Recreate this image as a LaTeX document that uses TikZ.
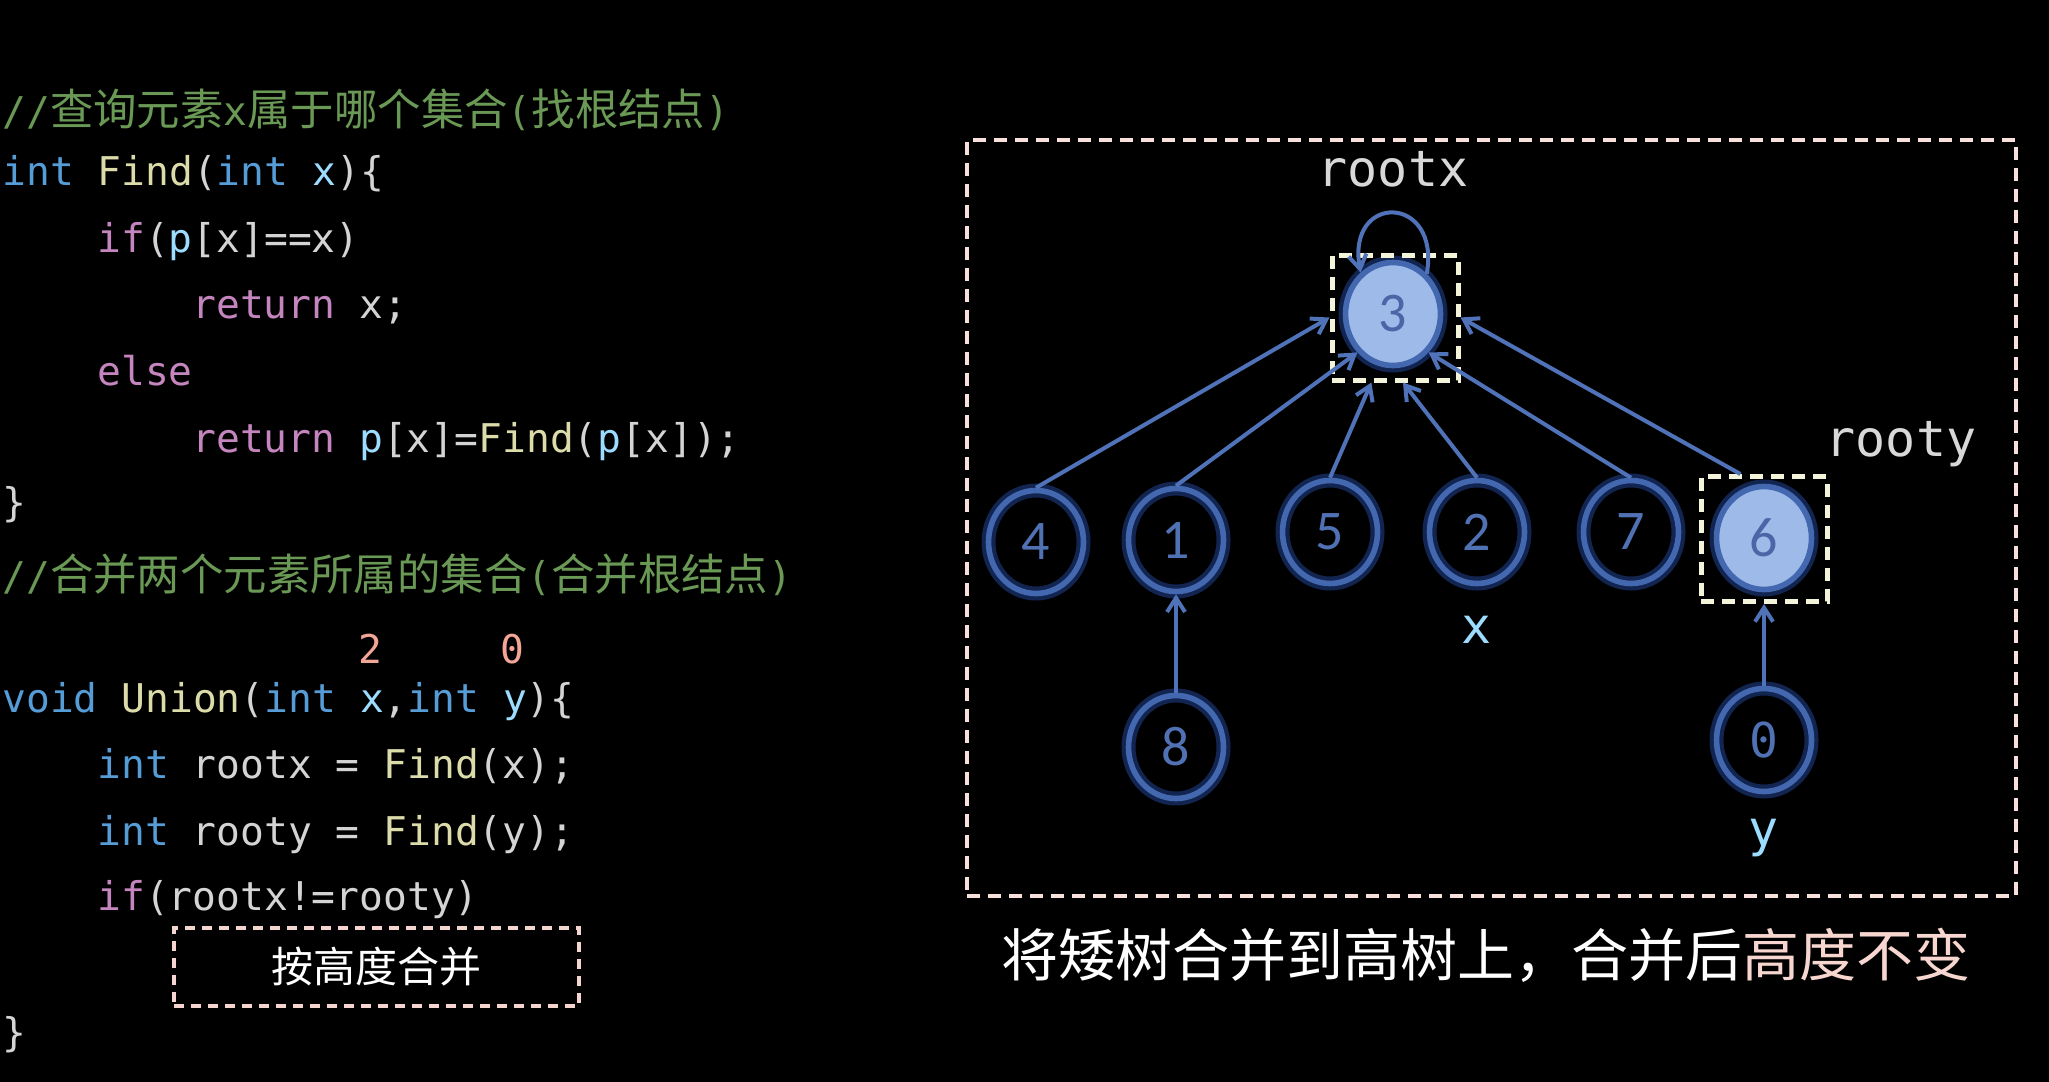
\documentclass[tikz,border=0pt]{standalone}
\usepackage{fontspec}
\usetikzlibrary{arrows.meta,shapes.geometric}
\newfontfamily\codefont{DejaVu Sans Mono}
\newfontfamily\cjk{Noto Sans CJK SC}
\newfontfamily\calib{Carlito}
\definecolor{cmt}{HTML}{6A9955}
\definecolor{kw}{HTML}{569CD6}
\definecolor{fn}{HTML}{DCDCAA}
\definecolor{var}{HTML}{9CDCFE}
\definecolor{ctl}{HTML}{C586C0}
\definecolor{txt}{HTML}{D4D4D4}
\definecolor{num}{HTML}{F3A597}
\definecolor{nodeblue}{HTML}{4468B0}
\definecolor{glowblue}{HTML}{2E5BC8}
\definecolor{fillblue}{HTML}{9DBAE8}
\definecolor{digit}{HTML}{5072B4}
\definecolor{digitdark}{HTML}{4A66A6}
\definecolor{edgeblue}{HTML}{4F72B8}
\definecolor{cream}{HTML}{F4F4DA}
\definecolor{pinkframe}{HTML}{F8E0DC}
\definecolor{pinkbox}{HTML}{F5D5D0}
\definecolor{pinkt}{HTML}{F8D6D0}
\definecolor{lgray}{HTML}{D8D8D8}
\newcommand\cjkc{\cjk\fontsize{21.7pt}{26pt}\selectfont}
\begin{document}
\begin{tikzpicture}[x=0.5pt,y=-0.5pt,
  code/.style={anchor=base west, inner sep=0pt, font=\codefont\fontsize{19.8pt}{24pt}\selectfont, text=txt},
  tnode/.style={ellipse, draw=nodeblue, line width=2.8pt, minimum width=47.5pt, minimum height=51.5pt, inner sep=0pt, text=digit, font=\calib\fontsize{28pt}{30pt}\selectfont, preaction={draw=glowblue, line width=7pt, draw opacity=0.4}},
  rootnode/.style={tnode, fill=fillblue, text=digitdark},
  rootbox/.style={draw=cream, dash pattern=on 6.5pt off 4pt, line width=2.5pt, minimum width=63pt, minimum height=62.5pt, inner sep=0pt},
  edge/.style={draw=edgeblue, line width=2pt, -{Straight Barb[length=7pt,width=9pt]}},
  lbl/.style={font=\codefont\fontsize{25pt}{30pt}\selectfont, text=lgray, anchor=base, inner sep=0pt}]
\useasboundingbox (0,0) rectangle (2049,1081);
\fill[black] (-20,-20) rectangle (2069,1101);
% code
\node[code] (l1) at (2,126) {\textcolor{cmt}{//{\cjkc 查询元素}x{\cjkc 属于哪个集合}({\cjkc 找根结点})}};
\node[code] (l2) at (2,185) {\textcolor{kw}{int} \textcolor{fn}{Find}(\textcolor{kw}{int} \textcolor{var}{x})\{};
\node[code] (l3) at (97,252) {\textcolor{ctl}{if}(\textcolor{var}{p}[x]==x)};
\node[code] (l4) at (192,318) {\textcolor{ctl}{return} x;};
\node[code] (l5) at (97,385) {\textcolor{ctl}{else}};
\node[code] (l6) at (192,452) {\textcolor{ctl}{return} \textcolor{var}{p}[x]=\textcolor{fn}{Find}(\textcolor{var}{p}[x]);};
\node[code] (l7) at (2,516) {\}};
\node[code] (l8) at (2,590) {\textcolor{cmt}{//{\cjkc 合并两个元素所属的集合}({\cjkc 合并根结点})}};
\node[code, anchor=base, text=num] (n2lbl) at (370,663) {2};
\node[code, anchor=base, text=num] (n0lbl) at (512,663) {0};
\node[code] (l10) at (2,712) {\textcolor{kw}{void} \textcolor{fn}{Union}(\textcolor{kw}{int} \textcolor{var}{x},\textcolor{kw}{int} \textcolor{var}{y})\{};
\node[code] (l11) at (97,778) {\textcolor{kw}{int} rootx = \textcolor{fn}{Find}(x);};
\node[code] (l12) at (97,845) {\textcolor{kw}{int} rooty = \textcolor{fn}{Find}(y);};
\node[code] (l13) at (97,910) {\textcolor{ctl}{if}(rootx!=rooty)};
\node[draw=pinkbox, dash pattern=on 5pt off 3.5pt, line width=2pt, minimum width=202.5pt, minimum height=39pt, inner sep=0pt, font=\cjk\fontsize{21pt}{25pt}\selectfont, text=white] (hbox) at (376.5,967) {按高度合并};
\node[code] (l15) at (2,1046) {\}};
% frame
\node[draw=pinkframe, dash pattern=on 6.5pt off 4pt, line width=2pt, minimum width=524.5pt, minimum height=378pt, inner sep=0pt] (frame) at (1491.5,518) {};
% tree nodes
\node[rootnode] (n3) at (1393,314) {3};
\node[tnode] (n4) at (1036,542) {4};
\node[tnode] (n1) at (1176,540) {1};
\node[tnode] (n5) at (1330,532) {5};
\node[tnode] (n2) at (1477,532) {2};
\node[tnode] (n7) at (1631,532) {7};
\node[rootnode] (n6) at (1764,538) {6};
\node[tnode] (n8) at (1176,747) {8};
\node[tnode, font=\codefont\fontsize{24pt}{28pt}\selectfont] (n0) at (1764,740) {0};
\node[rootbox] (b3) at (1395,317.5) {};
\node[rootbox] (b6) at (1764,539) {};
% edges
\draw[edge] (n4.north) -- (b3.west);
\draw[edge] (n1.north) -- (n3.south west);
\draw[edge] (n5.north) -- (b3.250);
\draw[edge] (n2.north) -- (b3.277);
\draw[edge] (n7.north) -- (n3.south east);
\draw[edge] (b6.110) -- (b3.east);
\draw[edge] (n8.north) -- (n1.south);
\draw[edge] (n0.north) -- (b6.south);
\draw[edge] (n3.50) .. controls +(14,-80) and +(-14,-80) .. (n3.128);
% labels
\node[lbl] (lrx) at (1393,186) {rootx};
\node[lbl] (lry) at (1901,456) {rooty};
\node[lbl, text=var] (lx) at (1477,643) {x};
\node[lbl, text=var] (ly) at (1764,846) {y};
\node[font=\cjk\fontsize{28.5pt}{34pt}\selectfont, text=white, inner sep=0pt] (cap) at (1486,955) {将矮树合并到高树上，合并后\textcolor{pinkt}{高度不变}};
\end{tikzpicture}
\end{document}
